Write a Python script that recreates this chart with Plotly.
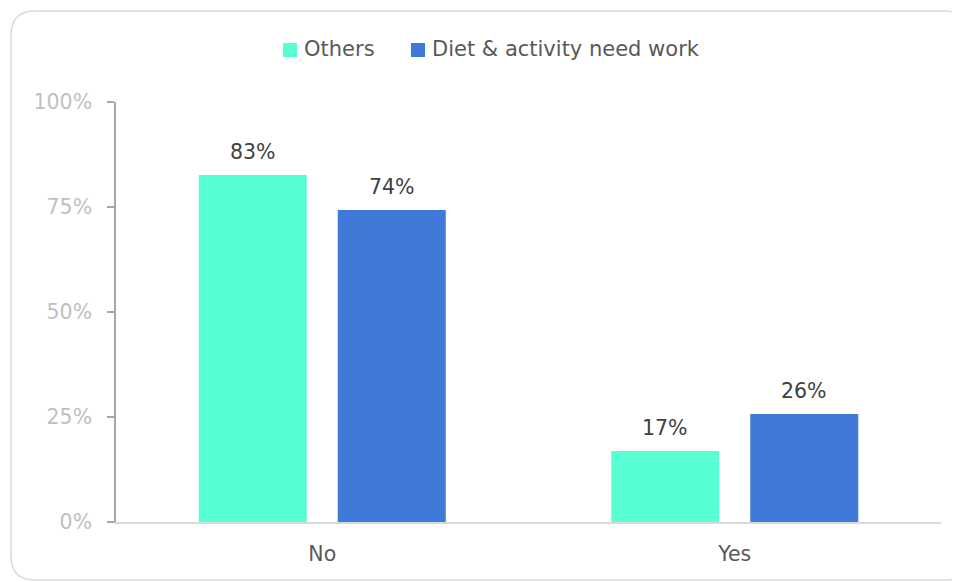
import plotly.graph_objects as go

categories = ["No", "Yes"]
series_names = ["Others", "Diet & activity need work"]
others_values = [0.826, 0.169]
diet_values = [0.743, 0.257]
label_others = ["83%", "17%"]
label_diet = ["74%", "26%"]
y_ticks = [0, 0.25, 0.5, 0.75, 1.0]
y_tick_labels = ["0%", "25%", "50%", "75%", "100%"]

colors = ["#58FFD3", "#3F7AD8"]
FONT = "DejaVu Sans"
FS = 20.5

fig = go.Figure()
fig.add_trace(go.Bar(x=categories, y=others_values, name=series_names[0],
                     marker=dict(color=colors[0], line=dict(width=0))))
fig.add_trace(go.Bar(x=categories, y=diet_values, name=series_names[1],
                     marker=dict(color=colors[1], line=dict(width=0))))

# page pixel -> paper coordinates (page has an 8px body margin)
def px(xp): return (xp - 116) / 825.0
def py(yp): return (522 - yp) / 420.0

annotations = []
for vals, labels, shift in [(others_values, label_others, -69.5), (diet_values, label_diet, 69.5)]:
    for c, v, t in zip(categories, vals, labels):
        annotations.append(dict(x=c, y=v, xref="x", yref="y", text=t, showarrow=False,
                                xshift=shift, yshift=9, yanchor="bottom",
                                font=dict(family=FONT, size=FS, color="#404040")))

# custom legend
legend_sq_x = [283, 411]
shapes = []
for name, col, sx in zip(series_names, colors, legend_sq_x):
    shapes.append(dict(type="rect", xref="paper", yref="paper",
                       x0=px(sx), x1=px(sx + 14), y0=py(57), y1=py(43),
                       fillcolor=col, line=dict(width=0)))
    annotations.append(dict(x=px(sx + 19), y=py(49), xref="paper", yref="paper",
                            text=name, showarrow=False, xanchor="left", yanchor="middle",
                            font=dict(family=FONT, size=21, color="#595959")))

# rounded card border
x0, x1, yb, yt = px(11), px(968), py(580), py(11)
rx, ry = 24 / 825.0, 24 / 420.0
path = (f"M {x0+rx},{yt} L {x1-rx},{yt} Q {x1},{yt} {x1},{yt-ry} "
        f"L {x1},{yb+ry} Q {x1},{yb} {x1-rx},{yb} L {x0+rx},{yb} "
        f"Q {x0},{yb} {x0},{yb+ry} L {x0},{yt-ry} Q {x0},{yt} {x0+rx},{yt} Z")
shapes.insert(0, dict(type="path", path=path, xref="paper", yref="paper",
                      line=dict(color="#D9D9D9", width=1.5), layer="below"))

fig.update_layout(
    width=952, height=574,
    margin=dict(l=108, r=19, t=94, b=60),
    paper_bgcolor="white", plot_bgcolor="white",
    barmode="group", bargap=0.326, bargroupgap=0.223,
    font=dict(family=FONT, size=FS, color="#595959"),
    showlegend=False,
    annotations=annotations,
    shapes=shapes,
    xaxis=dict(showline=True, linecolor="#D9D9D9", linewidth=2, ticks="",
               tickfont=dict(family=FONT, size=FS, color="#595959"),
               ticklabelstandoff=12, showgrid=False, zeroline=False),
    yaxis=dict(range=[0, 1], tickvals=y_ticks, ticktext=y_tick_labels,
               showline=True, linecolor="#A6A6A6", linewidth=1.5,
               ticks="outside", ticklen=7, tickcolor="#A6A6A6", tickwidth=1.5,
               tickfont=dict(family=FONT, size=FS, color="#BFBFBF"),
               ticklabelstandoff=11, showgrid=False, zeroline=False),
)

fig.write_html("out.html")
